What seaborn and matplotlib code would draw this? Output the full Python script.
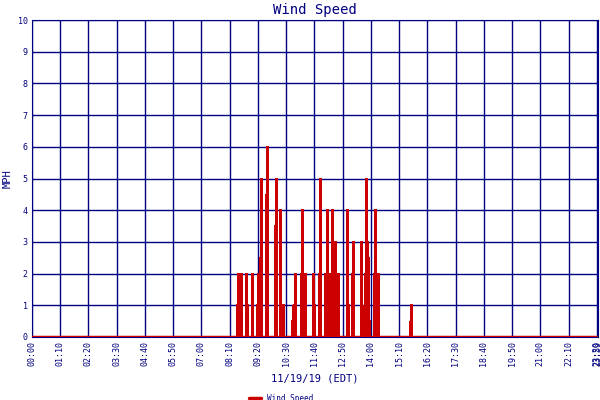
import matplotlib
matplotlib.use("Agg")
import matplotlib.pyplot as plt
import seaborn as sns
import pandas as pd

times = ["08:29","08:31","08:36","08:39","08:51","08:53","09:06","09:19","09:22","09:26","09:28",
         "09:40","09:43","10:03","10:05","10:15","10:17","10:19","10:23","10:45","10:47","10:50",
         "10:52","11:08","11:11","11:16","11:18","11:37","11:40","11:52","11:54","12:08","12:12",
         "12:14","12:17","12:21","12:24","12:29","12:32","12:39","12:41","13:01","13:04","13:14",
         "13:16","13:37","13:38","13:41","13:43","13:46","13:48","13:50","13:52","13:55","13:57",
         "14:08","14:11","14:18","14:20","15:37","15:40"]
speeds = [1,2,1,2,2,1,2,1,2,2.5,5,
          4.5,6,3.5,5,4,2,0.5,1,0.5,1,1,
          2,2,4,1,2,2,1,2,5,2,4,
          1,0.5,2,4,2,3,2,1,4,1,2,
          3,3,1.5,0.5,1,2,5,2.5,3,2.5,0.5,
          2,4,2,1,0.5,1]
tick_labels = ["00:00","01:10","02:20","03:30","04:40","05:50","07:00","08:10","09:20","10:30",
               "11:40","12:50","14:00","15:10","16:20","17:30","18:40","19:50","21:00","22:10","23:20"]

def tomin(s):
    h, m = s.split(":")
    return int(h) * 60 + int(m)

df = pd.DataFrame({"t": [tomin(s) for s in times], "v": speeds})
navy = "#000080"
red = "#cc0000"
mono = "DejaVu Sans Mono"

sns.set_style("white")
fig = plt.figure(figsize=(6, 4), dpi=100)
ax = fig.add_axes([32/600, 63/400, 566/600, 317/400])
ticks = [tomin(s) for s in tick_labels]
ax.set_xlim(0, 1403)
ax.set_ylim(0, 10)
ax.set_xticks(ticks + [1403])
ax.set_xticklabels(tick_labels + ["23:59"], rotation=90, fontsize=6, family=mono, color=navy)
ax.set_yticks(range(11))
ax.set_yticklabels([str(i) for i in range(11)], fontsize=6, family=mono, color=navy)
ax.grid(True, color=navy, linewidth=1)
ax.set_axisbelow(True)
for s in ax.spines.values():
    s.set_color(navy)
ax.tick_params(length=0, pad=3)

ax.bar(df["t"], df["v"], width=2.4, color=red, edgecolor=red, linewidth=0.3,
       antialiased=False, zorder=3)
zero = pd.DataFrame({"t": [0, 1403], "v": [0, 0]})
sns.lineplot(data=zero, x="t", y="v", ax=ax, color=red, linewidth=2.5, zorder=4, label="Wind Speed")
ax.set_xlabel("11/19/19 (EDT)", fontsize=7.5, family=mono, color=navy, labelpad=5)
ax.set_ylabel("MPH", fontsize=7.5, family=mono, color=navy)
ax.set_title("Wind Speed", fontsize=10, family=mono, color=navy, pad=4)
leg = ax.legend(loc="upper center", bbox_to_anchor=(0.44, -0.165), frameon=False,
                prop={"family": mono, "size": 5.5}, handlelength=1.5, borderpad=0.1)
for t in leg.get_texts():
    t.set_color(navy)
fig.savefig("out.png", dpi=100)
